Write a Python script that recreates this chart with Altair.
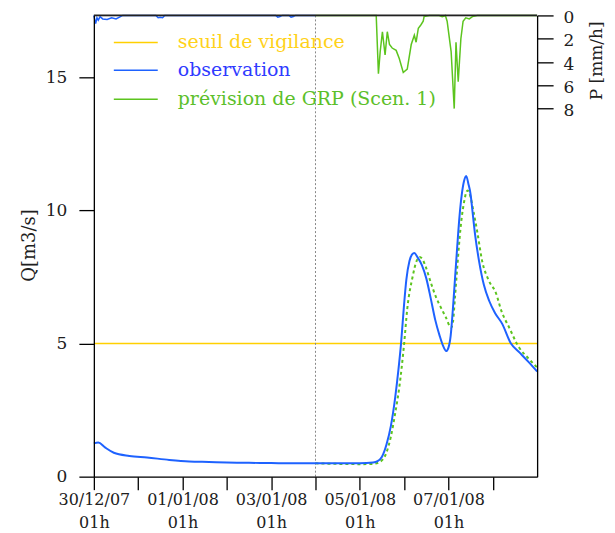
import altair as alt
import pandas as pd

# ---------------- data ----------------
# time axis: days since 30/12/07 01h
tick_days = list(range(10))
label_dates = ["30/12/07", "01/01/08", "03/01/08", "05/01/08", "07/01/08"]
hour_label = "01h"
forecast_day = 5.0          # 04/01/08 01h
threshold_q = 5.0           # seuil de vigilance

obs_days = [0, 0.1, 0.25, 0.45, 0.8, 1.2, 1.7, 2.15, 2.6, 3.0, 3.5, 4.0, 4.5, 5.0,
            5.5, 6.0, 6.3, 6.4, 6.5, 6.6, 6.7, 6.8, 6.87, 6.93, 7.0, 7.05, 7.12,
            7.18, 7.23, 7.3, 7.4, 7.5, 7.6, 7.7, 7.8, 7.87, 7.95, 8.0, 8.05, 8.1,
            8.15, 8.2, 8.25, 8.3, 8.35, 8.4, 8.45, 8.5, 8.54, 8.6, 8.69, 8.8, 8.92,
            9.05, 9.21, 9.41, 9.6, 9.8, 10.0]
obs_q = [1.25, 1.28, 1.1, 0.9, 0.78, 0.72, 0.63, 0.57, 0.55, 0.53, 0.52, 0.51, 0.5, 0.5,
         0.5, 0.5, 0.53, 0.58, 0.75, 1.2, 1.9, 3.0, 4.0, 5.0, 6.5, 7.4, 8.1,
         8.35, 8.4, 8.25, 7.95, 7.45, 6.7, 5.9, 5.3, 4.95, 4.72, 4.85, 5.3, 6.3,
         7.5, 8.7, 9.8, 10.6, 11.1, 11.3, 11.0, 10.6, 10.0, 9.1, 8.1, 7.2, 6.6,
         6.15, 5.75, 5.0, 4.67, 4.32, 3.95]

fc_days = [5.0, 5.5, 6.0, 6.3, 6.45, 6.6, 6.7, 6.8, 6.89, 7.0, 7.07, 7.19, 7.28, 7.35,
           7.42, 7.49, 7.6, 7.72, 7.83, 7.94, 8.06, 8.1, 8.15, 8.2, 8.27, 8.35, 8.43,
           8.5, 8.56, 8.65, 8.76, 8.9, 9.07, 9.2, 9.37, 9.59, 9.8, 10.0]
fc_q = [0.5, 0.48, 0.47, 0.48, 0.55, 0.9, 1.5, 2.4, 3.35, 5.0, 6.3, 7.5, 8.1, 8.25,
        8.15, 7.87, 7.3, 6.74, 6.35, 5.99, 5.6, 5.8, 6.8, 7.9, 9.3, 10.3, 10.75,
        10.5, 10.0, 9.2, 8.1, 7.4, 6.9, 6.2, 5.6, 4.86, 4.45, 4.1]

p_obs_days = [0, 0.04, 0.07, 0.1, 0.14, 0.2, 0.3, 0.4, 0.5, 0.6, 0.65, 1.4, 1.45, 1.5,
              1.55, 1.6, 4.1, 4.15, 4.2, 4.25, 4.4, 4.45, 4.5, 4.55, 5.0]
p_obs_mm = [0, 0.7, 0.2, 0.4, 0.1, 0.3, 0.35, 0.2, 0.3, 0.1, 0, 0, 0.2, 0.15,
            0.2, 0, 0, 0.15, 0.1, 0, 0, 0.15, 0.1, 0, 0]

p_fc_days = [5.0, 6.37, 6.42, 6.46, 6.51, 6.57, 6.62, 6.67, 6.73, 6.82, 6.89, 6.98, 7.07,
             7.16, 7.23, 7.27, 7.32, 7.38, 7.43, 7.45, 7.57, 7.79, 7.86, 7.93, 7.97,
             8.06, 8.13, 8.17, 8.22, 8.28, 8.33, 8.39, 8.47, 8.54, 8.65, 10.0]
p_fc_mm = [0, 0, 5.0, 3.1, 1.4, 3.4, 1.4, 2.5, 2.8, 3.0, 3.7, 4.9, 4.6,
           2.5, 1.7, 2.3, 1.1, 0.8, 0.5, 0.1, 0, 0, 0.1, 0, 0.5,
           3.1, 8.0, 2.3, 5.7, 2.0, 0.5, 0.2, 0.3, 0.1, 0, 0]

legend_labels = ["seuil de vigilance", "observation", "prévision de GRP (Scen. 1)"]

# ---------------- style ----------------
YELLOW = "#FFD000"
BLUE = "#1E62FF"
GREEN = "#5CC41E"
LEG_TEXT = ["#FFD21A", "#2F3BFF", "#5CBF2A"]
LEG_COLORS = [YELLOW, BLUE, GREEN]
FONT = "DejaVu Serif"
W, H = 444, 462

obs_df = pd.DataFrame({"day": obs_days, "q": obs_q})
fc_df = pd.DataFrame({"day": fc_days, "q": fc_q})
pobs_df = pd.DataFrame({"day": p_obs_days, "p": p_obs_mm})
pfc_df = pd.DataFrame({"day": p_fc_days, "p": p_fc_mm})
thr_df = pd.DataFrame({"q": [threshold_q]})
vline_df = pd.DataFrame({"day": [forecast_day]})

arr = "[" + ",".join("'" + s + "'" for s in label_dates) + "]"
x_label_expr = (f"(datum.value % 2 == 0 && datum.value <= 8) ? "
                f"[{arr}[datum.value / 2], '{hour_label}'] : ''")

x_enc = alt.X("day:Q",
              scale=alt.Scale(domain=[0, 10], nice=False, zero=False),
              axis=alt.Axis(values=tick_days, labelExpr=x_label_expr, title=None,
                            tickSize=13, labelPadding=2, labelFontSize=16,
                            labelLineHeight=23, labelFlush=False, labelOverlap=False,
                            grid=False, domainColor="black", tickColor="black",
                            labelColor="#202020", labelFont=FONT, zindex=1,
                            domainWidth=1.3, tickWidth=1.3))

y_q = alt.Y("q:Q",
            scale=alt.Scale(domain=[0, 17.33], nice=False, zero=True),
            axis=alt.Axis(values=[0, 5, 10, 15], title="Q[m3/s]", tickSize=15,
                          labelPadding=12, labelFontSize=17, labelFont=FONT,
                          labelColor="#202020", grid=False, domainColor="black",
                          tickColor="black", domainWidth=1.3, tickWidth=1.3,
                          titleFont=FONT, titleFontSize=18, titleFontWeight="normal",
                          titleColor="#202020", titleAngle=270, titleX=-64, titleY=230,
                          titleAlign="center", titleBaseline="middle",
                          labelOverlap=False, zindex=1))

thr = alt.Chart(thr_df).mark_rule(color=YELLOW, strokeWidth=1.5).encode(y=y_q)
vline = alt.Chart(vline_df).mark_rule(color="#888888", strokeDash=[2, 2],
                                      strokeWidth=1).encode(x=x_enc)
fc_line = alt.Chart(fc_df).mark_line(color=GREEN, strokeWidth=2, strokeDash=[3, 3],
                                     interpolate="monotone").encode(x=x_enc, y=y_q)
obs_line = alt.Chart(obs_df).mark_line(color=BLUE, strokeWidth=2,
                                       interpolate="monotone").encode(x=x_enc, y=y_q)
q_layer = alt.layer(thr, vline, fc_line, obs_line)

y_p = alt.Y("p:Q",
            scale=alt.Scale(domain=[0, 39.6], nice=False, reverse=True),
            axis=alt.Axis(orient="right", values=[0, 2, 4, 6, 8], title="P [mm/h]",
                          tickSize=16, labelPadding=10, labelFontSize=17, labelFont=FONT,
                          labelOffset=2,
                          labelColor="#202020", grid=False, domainColor="black",
                          tickColor="black", domainWidth=1.3, tickWidth=1.3,
                          titleFont=FONT, titleFontSize=17, titleFontWeight="normal",
                          titleColor="#202020", titleAngle=270, titleX=59, titleY=45,
                          titleAlign="center", titleBaseline="middle",
                          labelOverlap=False, zindex=1))
p_obs = alt.Chart(pobs_df).mark_line(color=BLUE, strokeWidth=1.5).encode(x=x_enc, y=y_p)
p_fc = alt.Chart(pfc_df).mark_line(color=GREEN, strokeWidth=1.5).encode(x=x_enc, y=y_p)
p_layer = alt.layer(p_obs, p_fc)

# legend (drawn by hand because each label has its own colour)
leg_rows_y = [27, 55, 84]
deco = []
for lab, lc, tc, yy in zip(legend_labels, LEG_COLORS, LEG_TEXT, leg_rows_y):
    ldf = pd.DataFrame({"label": [lab]})
    deco.append(alt.Chart(ldf).mark_rule(color=lc, strokeWidth=1.5).encode(
        x=alt.value(20), x2=alt.value(64), y=alt.value(yy)))
    deco.append(alt.Chart(ldf).mark_text(align="left", baseline="middle", font=FONT,
                                         fontSize=19, color=tc).encode(
        x=alt.value(84), y=alt.value(yy), text="label:N"))
# top frame line
deco.append(alt.Chart(pd.DataFrame({"f": [0]})).mark_rule(color="#222222", strokeWidth=1.8).encode(
    x=alt.value(0), x2=alt.value(W), y=alt.value(0)))

chart = alt.layer(q_layer, p_layer, *deco).resolve_scale(y="independent").properties(
    width=W, height=H,
    autosize=alt.AutoSizeParams(type="none"),
    padding={"left": 86, "top": 7, "right": 70, "bottom": 56},
    background="white",
).configure_view(stroke=None).configure(font=FONT)

chart.save("out.html", embed_options={"renderer": "svg", "actions": False})
